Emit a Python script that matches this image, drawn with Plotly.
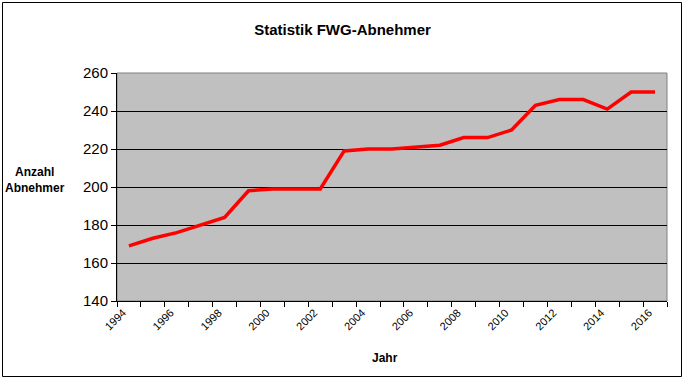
import plotly.graph_objects as go

years = list(range(1994, 2017))
abnehmer = [169, 173, 176, 180, 184, 198, 199, 199, 199, 219, 220, 220, 221, 222,
            226, 226, 230, 243, 246, 246, 241, 250, 250]
tick_years = list(range(1994, 2017, 2))

FONT = "Liberation Sans, Arial, sans-serif"
L, R, T, B = 117, 18, 73, 78
W, H = 685, 379
pw, ph = W - L - R, H - T - B

def px(x):
    return (x - L) / pw

def py(y):
    return (H - B - y) / ph

fig = go.Figure()
fig.add_trace(go.Scatter(x=years, y=abnehmer, mode="lines",
                         line=dict(color="#FF0000", width=3.5), showlegend=False))

fig.update_layout(
    width=W, height=H,
    margin=dict(l=L, r=R, t=T, b=B),
    paper_bgcolor="white", plot_bgcolor="#C0C0C0",
    font=dict(family=FONT, color="black"),
    title=dict(text="<b>Statistik FWG-Abnehmer</b>", x=0.5, xanchor="center",
               y=1 - 30 / H, yanchor="middle", font=dict(size=15, family=FONT)),
    xaxis=dict(range=[1993.5, 2016.5], tickvals=tick_years,
               ticktext=[str(t) for t in tick_years], tickangle=-45,
               ticks="", showgrid=False, showline=True, linecolor="black", linewidth=1,
               tickfont=dict(size=11, family=FONT), zeroline=False,
               ticklabelshift=-6,
               minor=dict(tick0=1993.5, dtick=1, ticks="outside", ticklen=5,
                          tickcolor="black", showgrid=False)),
    yaxis=dict(range=[140, 260], dtick=20, tick0=140, ticks="outside", ticklen=5,
               tickcolor="black", showgrid=True, gridcolor="black", gridwidth=1,
               showline=True, linecolor="black", linewidth=1, zeroline=False,
               tickfont=dict(size=15, family=FONT)),
    shapes=[
        dict(type="rect", xref="paper", yref="paper", x0=0, x1=1, y0=0, y1=1,
             line=dict(color="#808080", width=1), layer="below"),
        dict(type="rect", xref="paper", yref="paper", x0=px(2.5), x1=px(681.5),
             y0=py(376.5), y1=py(2.5), line=dict(color="black", width=1)),
    ],
    annotations=[
        dict(text="<b>Anzahl<br>Abnehmer</b>", xref="paper", yref="paper",
             x=px(35), y=py(180), xanchor="center", yanchor="middle",
             showarrow=False, align="center",
             font=dict(size=12, family=FONT)),
        dict(text="<b>Jahr</b>", xref="paper", yref="paper",
             x=px(385), y=py(358), xanchor="center", yanchor="middle",
             showarrow=False, font=dict(size=12, family=FONT)),
    ],
)

fig.write_html("out.html")
